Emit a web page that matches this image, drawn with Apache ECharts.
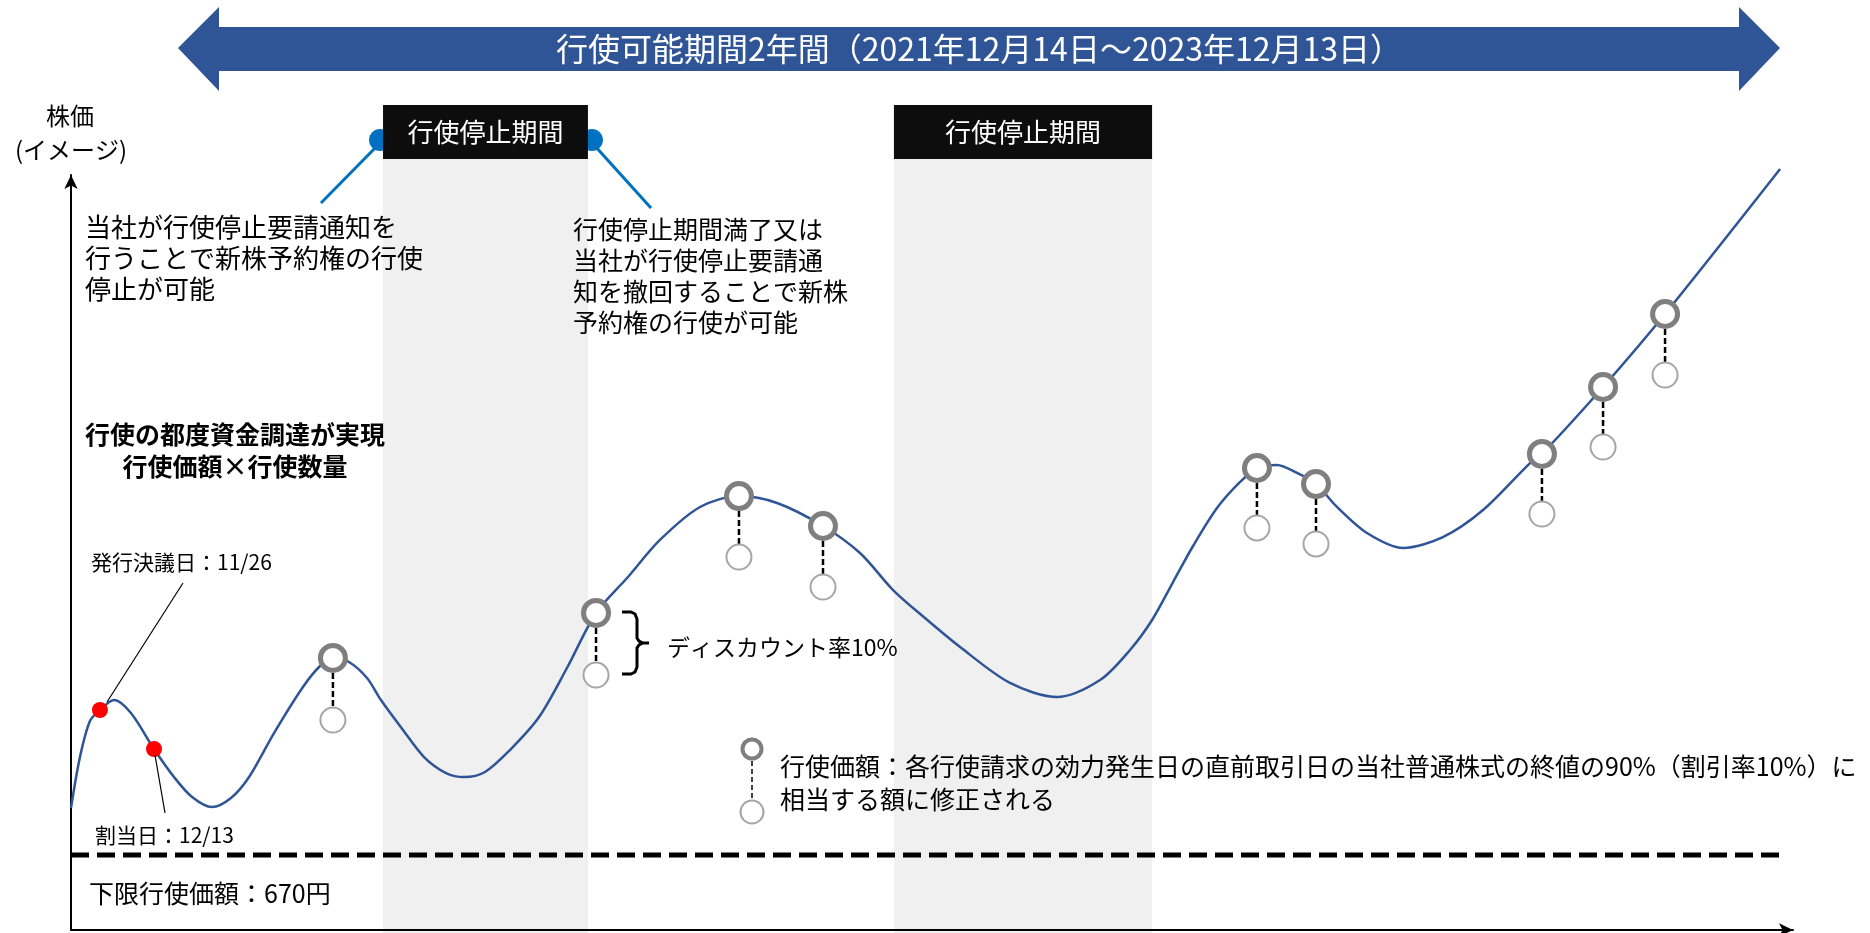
<!DOCTYPE html>
<html><head><meta charset="utf-8">
<script src="https://cdn.jsdelivr.net/npm/echarts@6/dist/echarts.min.js"></script>
<style>html,body{margin:0;padding:0;background:#fff}#c{width:1870px;height:933px}</style>
</head><body><div id="c"></div>
<script>
// ---- data (abstract time 0-100, abstract price index 0-100) ----
const curveX = [0.00,0.52,1.10,1.68,2.50,3.48,4.82,5.98,7.03,8.19,9.29,10.34,11.79,13.47,14.52,15.21,16.14,17.19,18.00,19.28,20.50,21.78,22.82,24.04,25.49,27.18,28.80,30.49,32.29,34.20,36.53,38.79,41.00,43.67,45.82,47.74,49.59,51.63,54.53,57.26,59.76,61.50,62.78,64.00,65.16,66.55,67.89,68.87,70.03,71.20,72.30,73.52,75.26,77.35,79.67,82.00,84.73,85.42,88.97,92.57,99.25];
const curveY = [16.16,22.91,27.68,29.14,30.46,28.74,23.97,20.26,17.62,16.29,17.48,20.26,26.09,32.19,35.10,36.03,35.50,33.38,30.46,26.49,22.91,20.79,20.26,20.93,23.84,28.21,34.70,41.99,46.62,51.66,56.03,57.48,56.56,53.51,49.93,45.03,41.32,37.48,32.72,30.86,33.11,37.09,41.06,46.09,50.86,55.89,59.34,61.19,61.59,60.53,59.07,56.03,52.58,50.60,52.05,55.63,61.85,63.05,71.92,81.59,100.79];
const exerciseX = [15.21,30.49,38.79,43.67,68.87,72.30,85.42,88.97,92.57];
const exerciseY = [36.03,41.99,57.48,53.51,61.19,59.07,63.05,71.92,81.59];
const exercisePriceY = [27.81,33.77,49.40,45.43,53.25,51.13,55.10,63.97,73.51];
const milestoneX = [1.68, 4.82];
const milestoneY = [29.14, 23.97];
const milestoneLabels = ['発行決議日：11/26', '割当日：12/13'];
const suspendStart = [18.12, 47.79];
const suspendEnd = [30.02, 62.78];
const floorPrice = 9.93;
const floorEndX = 99.36;
const floorLabel = '下限行使価額：670円';
const periodLabel = '行使可能期間2年間（2021年12月14日～2023年12月13日）';
const suspendLabel = '行使停止期間';
const axisLabelY = ['株価', '(イメージ)'];
const noteStop = ['当社が行使停止要請通知を', '行うことで新株予約権の行使', '停止が可能'];
const noteResume = ['行使停止期間満了又は', '当社が行使停止要請通', '知を撤回することで新株', '予約権の行使が可能'];
const noteFunding = ['行使の都度資金調達が実現', '行使価額×行使数量'];
const discountLabel = 'ディスカウント率10%';
const legendText = ['行使価額：各行使請求の効力発生日の直前取引日の当社普通株式の終値の90%（割引率10%）に', '相当する額に修正される'];

const FONT = '"Noto Sans CJK JP", "Noto Sans", sans-serif';
const BLUE = '#2F5597';

const chart = echarts.init(document.getElementById('c'), null, {renderer: 'canvas'});

const axisCommon = {
  type: 'value', min: 0, max: 100,
  axisLine: {show: true, onZero: false, symbol: ['none', 'arrow'], symbolSize: [10, 14], lineStyle: {color: '#000', width: 2}},
  axisTick: {show: false}, axisLabel: {show: false}, splitLine: {show: false}
};

chart.setOption({
  animation: false,
  backgroundColor: '#fff',
  grid: {left: 71, right: 77, top: 175, bottom: 3},
  xAxis: Object.assign({}, axisCommon),
  yAxis: Object.assign({}, axisCommon),
  series: [
    {
      type: 'line', data: [[0, floorPrice], [floorEndX, floorPrice]], symbol: 'none', silent: true,
      lineStyle: {color: '#000', width: 5, type: [18, 8]}, z: 2
    },
    {
      type: 'line', data: curveX.map((x, i) => [x, curveY[i]]), smooth: 0.3, symbol: 'none', clip: false, silent: true,
      lineStyle: {color: BLUE, width: 2.5}, z: 3
    },
    {
      type: 'custom', silent: true, z: 4,
      data: exerciseX.map((x, i) => [x, exerciseY[i], exercisePriceY[i]]),
      renderItem: function (params, api) {
        const p1 = api.coord([api.value(0), api.value(1)]);
        const p2 = api.coord([api.value(0), api.value(2)]);
        return {type: 'line', shape: {x1: p1[0], y1: p1[1] + 15, x2: p2[0], y2: p2[1] - 13},
          style: {stroke: '#000', lineWidth: 2.5, lineDash: [6, 3]}};
      }
    },
    {
      type: 'scatter', data: exerciseX.map((x, i) => [x, exerciseY[i]]), symbol: 'circle', symbolSize: 25, silent: true,
      itemStyle: {color: '#fff', borderColor: '#7F7F7F', borderWidth: 5, opacity: 1}, z: 5
    },
    {
      type: 'scatter', data: exerciseX.map((x, i) => [x, exercisePriceY[i]]), symbol: 'circle', symbolSize: 25, silent: true,
      itemStyle: {color: '#fff', borderColor: '#A6A6A6', borderWidth: 2, opacity: 1}, z: 5
    },
    {
      type: 'scatter', data: milestoneX.map((x, i) => [x, milestoneY[i]]), symbol: 'circle', symbolSize: 16, silent: true,
      itemStyle: {color: '#FF0000', opacity: 1}, z: 6
    }
  ]
});

function txt(text, x, y, size, opts) {
  opts = opts || {};
  return {
    type: 'text', z: opts.z || 50, silent: true,
    style: {
      text: text, x: x, y: y,
      font: (opts.weight || 'normal') + ' ' + size + 'px ' + FONT,
      fill: opts.fill || '#000',
      textAlign: opts.align || 'left', align: opts.align || 'left',
      textVerticalAlign: 'middle', verticalAlign: 'middle',
      lineHeight: opts.lh || Math.round(size * 1.25)
    }
  };
}

const g = [];
// suspension bands + header boxes
for (let i = 0; i < suspendStart.length; i++) {
  const xl = chart.convertToPixel({xAxisIndex: 0}, suspendStart[i]);
  const xr = chart.convertToPixel({xAxisIndex: 0}, suspendEnd[i]);
  g.push({type: 'rect', z: -5, silent: true, shape: {x: xl, y: 159, width: xr - xl, height: 933 - 159}, style: {fill: '#F0F0F0'}});
  g.push({type: 'rect', z: 40, silent: true, shape: {x: xl, y: 105, width: xr - xl, height: 54}, style: {fill: '#0D0D0D'}});
  g.push(txt(suspendLabel, (xl + xr) / 2, 132, 26, {fill: '#fff', align: 'center', z: 41}));
  if (i === 0) {
    g.push({type: 'circle', z: 30, silent: true, shape: {cx: xl - 3, cy: 140, r: 11}, style: {fill: '#0070C0'}});
    g.push({type: 'line', z: 30, silent: true, shape: {x1: xl - 6, y1: 146, x2: 321, y2: 203}, style: {stroke: '#0070C0', lineWidth: 3}});
    g.push({type: 'circle', z: 30, silent: true, shape: {cx: xr + 4, cy: 140, r: 11}, style: {fill: '#0070C0'}});
    g.push({type: 'line', z: 30, silent: true, shape: {x1: xr + 7, y1: 146, x2: 651, y2: 208}, style: {stroke: '#0070C0', lineWidth: 3}});
  }
}
// big period arrow
g.push({type: 'polygon', z: 20, silent: true, shape: {points: [[178, 48], [219, 7], [219, 27], [1739, 27], [1739, 7], [1780, 48], [1739, 91], [1739, 71], [219, 71], [219, 91]]}, style: {fill: BLUE}});
g.push(txt(periodLabel, 979, 49, 32, {fill: '#fff', align: 'center', z: 21}));
// y axis title
g.push(txt(axisLabelY[0], 70, 116, 24, {align: 'center'}));
g.push(txt(axisLabelY[1], 71, 150, 24, {align: 'center'}));
// notes
g.push(txt(noteStop.join('\n'), 85, 258, 26, {lh: 31}));
g.push(txt(noteResume.join('\n'), 573, 276, 25, {lh: 31}));
g.push(txt(noteFunding.join('\n'), 235, 450, 25, {align: 'center', weight: 'bold', lh: 32}));
// milestone labels and leaders
g.push(txt(milestoneLabels[0], 91, 562, 21));
g.push(txt(milestoneLabels[1], 95, 835, 21));
g.push({type: 'line', z: 30, silent: true, shape: {x1: 107, y1: 702, x2: 183, y2: 583}, style: {stroke: '#000', lineWidth: 1.2}});
g.push({type: 'line', z: 30, silent: true, shape: {x1: 155, y1: 755, x2: 165, y2: 813}, style: {stroke: '#000', lineWidth: 1.2}});
// floor label
g.push(txt(floorLabel, 89, 893, 25));
// discount bracket
g.push({type: 'polyline', z: 30, silent: true, shape: {points: [[622, 612], [631, 612], [635, 614], [637, 619], [637, 638], [639, 641], [643, 643], [649, 643], [643, 643], [639, 645], [637, 648], [637, 667], [635, 672], [631, 674], [622, 674]]}, style: {stroke: '#000', lineWidth: 3, fill: null}});
g.push(txt(discountLabel, 667, 647, 23));
// legend
g.push({type: 'line', z: 30, silent: true, shape: {x1: 752, y1: 761, x2: 752, y2: 800}, style: {stroke: '#000', lineWidth: 1.5, lineDash: [5, 3]}});
g.push({type: 'circle', z: 31, silent: true, shape: {cx: 752, cy: 749, r: 9.5}, style: {fill: '#fff', stroke: '#7F7F7F', lineWidth: 4}});
g.push({type: 'circle', z: 31, silent: true, shape: {cx: 752, cy: 812, r: 11.5}, style: {fill: '#fff', stroke: '#A6A6A6', lineWidth: 2}});
g.push(txt(legendText.join('\n'), 780, 783, 25, {lh: 33}));

chart.setOption({graphic: {elements: g}});
</script>
</body></html>
